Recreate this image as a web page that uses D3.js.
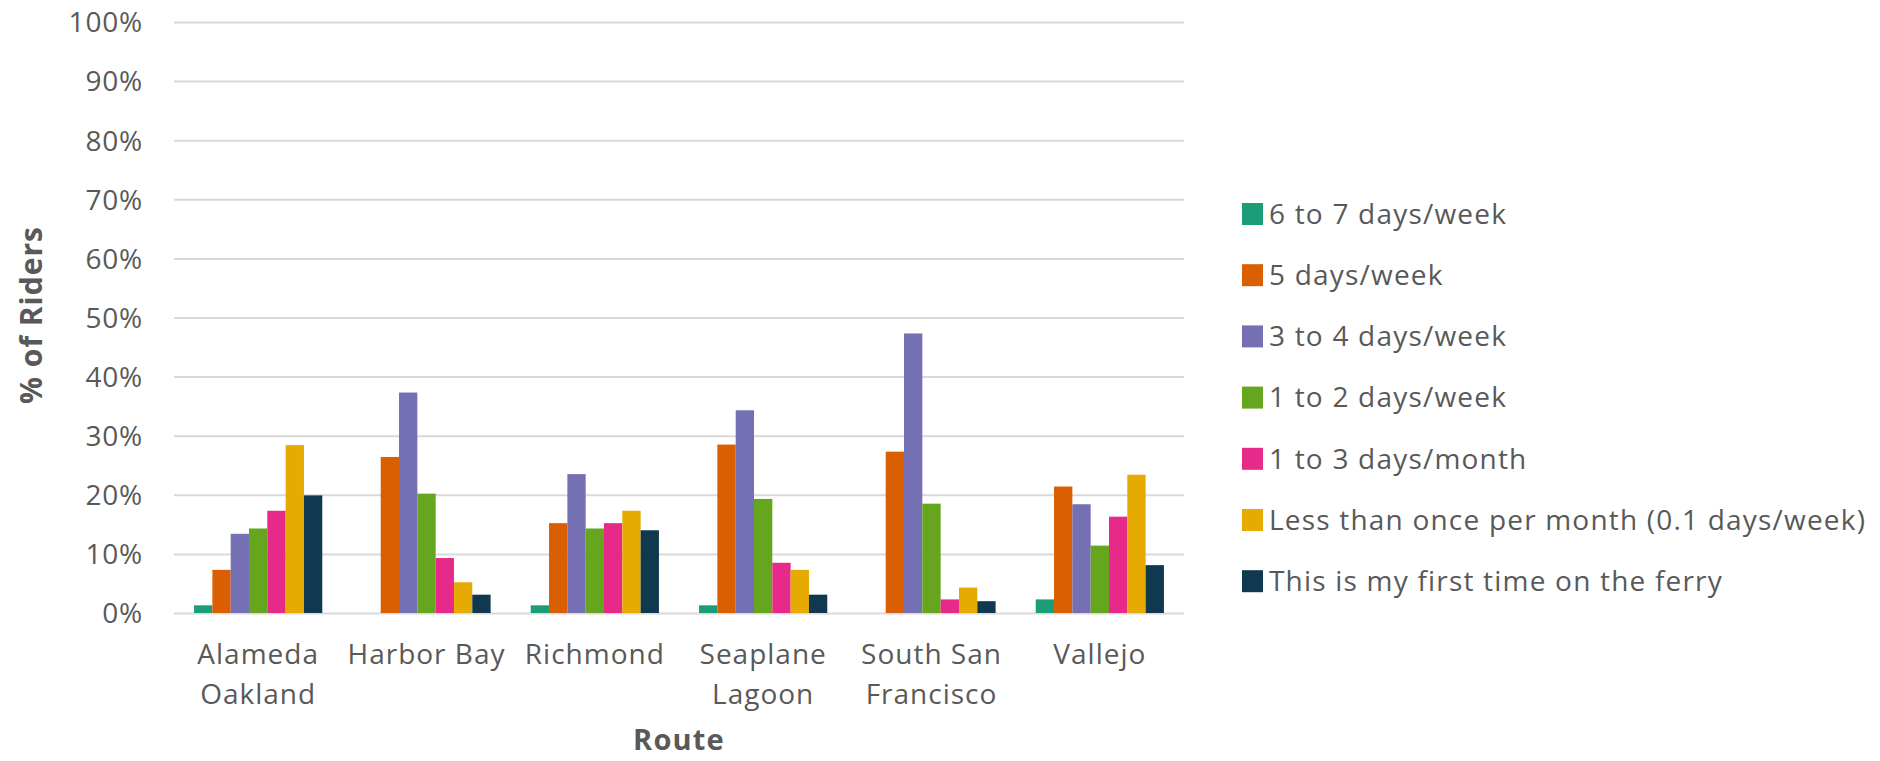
<!DOCTYPE html>
<html>
<head>
<meta charset="utf-8">
<script src="https://cdn.jsdelivr.net/npm/d3@7"></script>
<style>
  html, body { margin: 0; padding: 0; background: #ffffff; }
  svg { display: block; }
  text { font-family: "Open Sans", "Liberation Sans", sans-serif; fill: #595959; }
</style>
</head>
<body>
<svg id="chart" width="1880" height="761"></svg>
<script>
// Ferry ridership frequency by route (share of riders per frequency band)
const routes = ["Alameda Oakland", "Harbor Bay", "Richmond", "Seaplane Lagoon", "South San Francisco", "Vallejo"];
const frequencies = [
  "6 to 7 days/week",
  "5 days/week",
  "3 to 4 days/week",
  "1 to 2 days/week",
  "1 to 3 days/month",
  "Less than once per month (0.1 days/week)",
  "This is my first time on the ferry"
];
const colors = ["#1b9e77", "#d95f02", "#7570b3", "#66a61e", "#e7298a", "#e6ab02", "#10394f"];

// Values per frequency band, one entry per route (fractions)
const sixToSeven   = [0.013, 0.000, 0.013, 0.013, 0.000, 0.023];
const fiveDays     = [0.073, 0.264, 0.152, 0.285, 0.273, 0.214];
const threeToFour  = [0.134, 0.373, 0.235, 0.343, 0.473, 0.184];
const oneToTwo     = [0.143, 0.202, 0.143, 0.193, 0.185, 0.114];
const oneToThreeMo = [0.173, 0.093, 0.152, 0.085, 0.023, 0.163];
const lessThanMo   = [0.284, 0.052, 0.173, 0.073, 0.043, 0.234];
const firstTime    = [0.199, 0.031, 0.140, 0.031, 0.020, 0.081];
const seriesValues = [sixToSeven, fiveDays, threeToFour, oneToTwo, oneToThreeMo, lessThanMo, firstTime];

const yTicks = [0, 0.1, 0.2, 0.3, 0.4, 0.5, 0.6, 0.7, 0.8, 0.9, 1.0];

const svg = d3.select("#chart");
const plot = { left: 174, right: 1184, top: 22, bottom: 613 };

const x = d3.scaleBand().domain(routes).range([plot.left, plot.right]).paddingInner(0).paddingOuter(0);
const gapRatio = 2.19; // gap between groups, in bar widths
const barW = x.bandwidth() / (frequencies.length + gapRatio);
const xInner = d3.scaleBand()
  .domain(frequencies)
  .range([barW * gapRatio / 2, x.bandwidth() - barW * gapRatio / 2])
  .padding(0);
const y = d3.scaleLinear().domain([0, 1]).range([plot.bottom, plot.top]);

// Gridlines and percentage labels
const yAxis = d3.axisLeft(y)
  .tickValues(yTicks)
  .tickFormat(d3.format(".0%"))
  .tickSize(-(plot.right - plot.left))
  .tickPadding(31);
const gy = svg.append("g").attr("transform", `translate(${plot.left},0)`).call(yAxis);
gy.select(".domain").remove();
gy.selectAll(".tick line").attr("stroke", "#d9d9d9").attr("stroke-width", 2);
gy.selectAll(".tick text")
  .attr("font-size", 28)
  .attr("letter-spacing", 0.8)
  .attr("fill", "#595959")
  .attr("dy", "0.35em");

// Bars
const groups = svg.append("g").selectAll("g")
  .data(frequencies)
  .join("g")
  .attr("fill", (d, i) => colors[i]);

groups.selectAll("rect")
  .data((f, i) => routes.map((r, j) => ({ route: r, freq: f, value: seriesValues[i][j] })))
  .join("rect")
  .attr("x", d => x(d.route) + xInner(d.freq))
  .attr("width", xInner.bandwidth())
  .attr("y", d => y(d.value))
  .attr("height", d => y(0) - y(d.value));

// Category axis (labels only), with word wrapping to the band width
const xAxis = d3.axisBottom(x).tickSize(0).tickPadding(0);
const gx = svg.append("g").attr("transform", `translate(0,${plot.bottom})`).call(xAxis);
gx.select(".domain").remove();
gx.selectAll(".tick text")
  .attr("font-size", 28)
  .attr("letter-spacing", 1)
  .attr("fill", "#595959")
  .attr("y", 51)
  .attr("dy", 0)
  .each(function(d) {
    const t = d3.select(this);
    const words = d.split(" ");
    const maxW = x.bandwidth() - 2;
    t.text(null);
    let line = [];
    let lineNo = 0;
    let tspan = t.append("tspan").attr("x", 0).attr("y", 51);
    words.forEach(w => {
      line.push(w);
      tspan.text(line.join(" "));
      if (tspan.node().getComputedTextLength() > maxW && line.length > 1) {
        line.pop();
        tspan.text(line.join(" "));
        line = [w];
        lineNo += 1;
        tspan = t.append("tspan").attr("x", 0).attr("y", 51 + lineNo * 40).text(w);
      }
    });
  });

// Axis titles
svg.append("text")
  .attr("x", (plot.left + plot.right) / 2)
  .attr("y", 750)
  .attr("text-anchor", "middle")
  .attr("font-size", 29)
  .attr("letter-spacing", 1.2)
  .attr("font-weight", "bold")
  .text("Route");

svg.append("text")
  .attr("transform", "translate(42,315) rotate(-90)")
  .attr("text-anchor", "middle")
  .attr("font-size", 30)
  .attr("letter-spacing", 1)
  .attr("font-weight", "bold")
  .text("% of Riders");

// Legend
const legend = svg.append("g").attr("transform", "translate(1242,214)");
const items = legend.selectAll("g")
  .data(frequencies)
  .join("g")
  .attr("transform", (d, i) => `translate(0,${i * 61.2})`);
items.append("rect")
  .attr("x", 0)
  .attr("y", -11)
  .attr("width", 21)
  .attr("height", 22)
  .attr("fill", (d, i) => colors[i]);
items.append("text")
  .attr("x", 27)
  .attr("y", 0)
  .attr("dy", "0.35em")
  .attr("font-size", 28)
  .attr("letter-spacing", 1.2)
  .text(d => d);
</script>
</body>
</html>
